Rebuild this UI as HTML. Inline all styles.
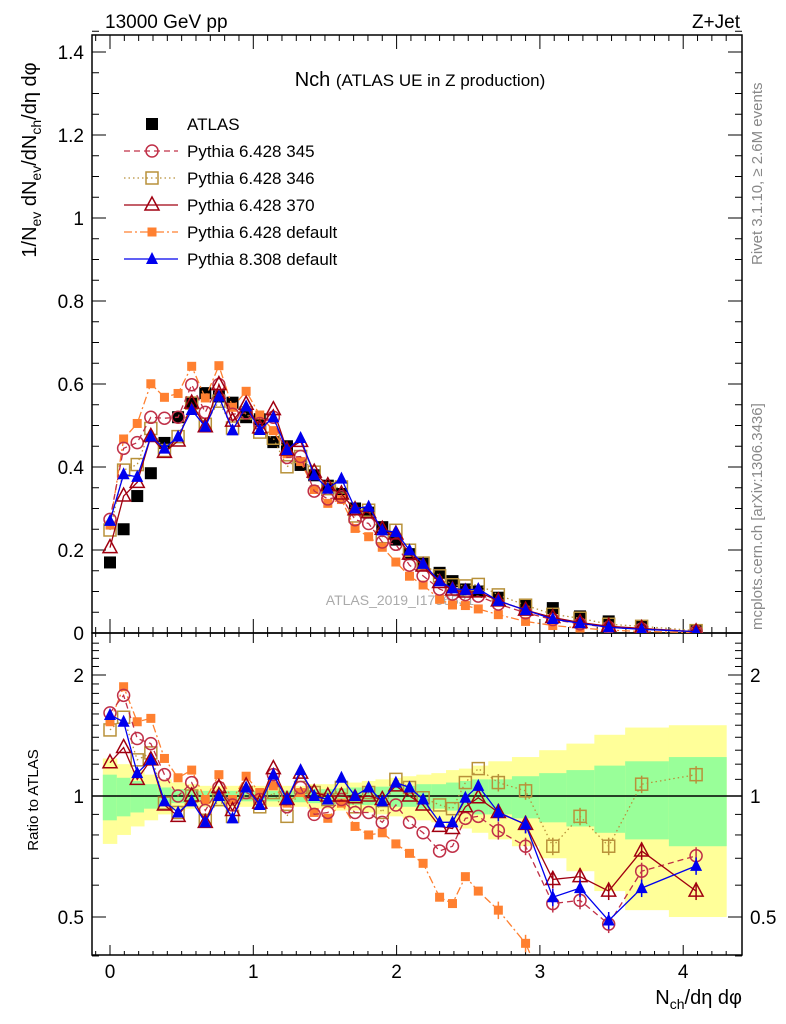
<!DOCTYPE html>
<html><head><meta charset="utf-8"><style>
html,body{margin:0;background:#fff;overflow:hidden;width:786px;height:1024px;}
svg{display:block;font-family:"Liberation Sans",sans-serif;overflow:hidden;}
</style></head><body>
<svg id="c" width="786" height="1024" viewBox="0 0 786 1024">
<text x="105" y="28" font-size="19">13000 GeV pp</text>
<text x="740" y="28" font-size="19" text-anchor="end">Z+Jet</text>
<text x="420" y="86" font-size="20" text-anchor="middle">Nch <tspan font-size="17">(ATLAS UE in Z production)</tspan></text>
<text x="400" y="605" font-size="14" fill="#aaa" text-anchor="middle">ATLAS_2019_I1736531</text>
<text transform="translate(762,265) rotate(-90)" font-size="15" fill="#888">Rivet 3.1.10, ≥ 2.6M events</text>
<text transform="translate(762,630) rotate(-90)" font-size="15" fill="#888">mcplots.cern.ch [arXiv:1306.3436]</text>
<text transform="translate(36,160) rotate(-90)" font-size="20" text-anchor="middle">1/N<tspan font-size="14" dy="5">ev</tspan><tspan dy="-5"> dN</tspan><tspan font-size="14" dy="5">ev</tspan><tspan dy="-5">/dN</tspan><tspan font-size="14" dy="5">ch</tspan><tspan dy="-5">/dη dφ</tspan></text>
<text transform="translate(38,800) rotate(-90)" font-size="15" text-anchor="middle">Ratio to ATLAS</text>
<text x="742" y="1004" font-size="20" text-anchor="end">N<tspan font-size="14" dy="5">ch</tspan><tspan dy="-5">/dη dφ</tspan></text>
<g id="g"></g>
</svg>
<script>
const xVals=[0,0.095,0.19,0.285,0.38,0.475,0.57,0.665,0.76,0.855,0.95,1.045,1.14,1.235,1.33,1.425,1.52,1.615,1.71,1.805,1.9,1.995,2.09,2.185,2.30,2.39,2.48,2.57,2.71,2.90,3.09,3.28,3.48,3.71,4.09];
const atlas=[0.17,0.25,0.33,0.385,0.458,0.52,0.554,0.578,0.57,0.555,0.52,0.515,0.46,0.45,0.405,0.38,0.355,0.335,0.30,0.29,0.255,0.225,0.19,0.17,0.145,0.125,0.105,0.10,0.085,0.065,0.06,0.04,0.028,0.015,0.005];
const r345=[1.61,1.78,1.39,1.35,1.13,1.0,1.08,0.92,1.05,0.95,1.02,0.98,1.13,0.94,1.05,0.90,0.91,0.98,0.91,0.91,0.86,0.95,0.86,0.81,0.73,0.75,0.88,0.89,0.82,0.75,0.54,0.55,0.48,0.65,0.71];
const r346=[1.46,1.57,1.23,1.28,0.96,0.91,1.0,0.87,0.98,0.89,1.02,0.94,1.02,0.89,1.05,1.02,0.98,1.05,0.94,1.02,0.91,1.10,1.05,0.99,0.95,0.93,1.08,1.17,1.08,1.03,0.75,0.89,0.75,1.07,1.13];
const r370=[1.21,1.32,1.10,1.23,0.95,0.89,1.0,0.86,1.05,0.92,1.06,0.96,1.17,0.98,1.14,1.02,1.0,1.0,0.99,1.0,0.98,1.06,1.0,0.95,0.84,0.83,0.94,0.99,0.91,0.85,0.62,0.63,0.58,0.73,0.58];
const rDef=[1.53,1.87,1.53,1.56,1.24,1.11,1.16,0.98,1.13,0.98,1.12,1.02,1.06,0.96,1.02,0.91,0.88,0.96,0.84,0.80,0.81,0.76,0.72,0.68,0.56,0.54,0.63,0.58,0.52,0.43,0.30,0.30,0.25,0.25,0.2];
const r8=[1.59,1.53,1.14,1.23,0.97,0.91,0.97,0.86,1.0,0.88,1.05,0.95,1.13,0.98,1.16,1.0,0.98,1.11,1.0,1.05,0.97,1.08,1.05,0.98,0.86,0.86,0.99,1.06,0.91,0.85,0.56,0.59,0.49,0.59,0.67];
const yellowF=[0.24,0.20,0.16,0.13,0.10,0.08,0.07,0.06,0.06,0.06,0.06,0.06,0.06,0.06,0.06,0.07,0.07,0.08,0.08,0.09,0.10,0.11,0.12,0.13,0.14,0.16,0.17,0.19,0.22,0.25,0.30,0.35,0.42,0.48,0.5];
const greenF=[0.13,0.11,0.09,0.07,0.05,0.04,0.035,0.03,0.03,0.03,0.03,0.03,0.03,0.03,0.035,0.04,0.04,0.045,0.05,0.05,0.055,0.06,0.06,0.07,0.07,0.08,0.09,0.1,0.1,0.12,0.14,0.16,0.19,0.22,0.25];
const yTicks=[0,0.2,0.4,0.6,0.8,1,1.2,1.4];
const xTicks=[0,1,2,3,4];
const rTicks=[0.5,1,2];

const L=92,R=742,T=35,MB=633,RB=955;
const X=v=>110+v*143.3;
const Y=v=>633-v*415;
const RY=r=>796-121*Math.log2(r);
const NS="http://www.w3.org/2000/svg";
const g=document.getElementById('g');
function el(t,a,p){const e=document.createElementNS(NS,t);for(const k in a)e.setAttribute(k,a[k]);(p||g).appendChild(e);return e;}
const clip=el('clipPath',{id:'rc'});el('rect',{x:L,y:MB,width:R-L,height:RB-MB},clip);
const clip2=el('clipPath',{id:'mc'});el('rect',{x:L,y:T,width:R-L,height:MB-T},clip2);

const edges=xVals.map((v,i)=>i==0?v-0.05:(v+xVals[i-1])/2);edges.push(4.3);
const bandG=el('g',{'clip-path':'url(#rc)'});
xVals.forEach((v,i)=>{
  const x0=X(edges[i]),x1=X(edges[i+1]);
  const b=el('rect',{x:x0,y:RY(1+yellowF[i]),width:x1-x0+0.5,height:RY(1-yellowF[i])-RY(1+yellowF[i]),fill:'#ffff99'},bandG);
  
  
  const c=el('rect',{x:x0,y:RY(1+greenF[i]),width:x1-x0+0.5,height:RY(1-greenF[i])-RY(1+greenF[i]),fill:'#99ff99'},bandG);
  
  
});
el('line',{x1:L,x2:R,y1:RY(1),y2:RY(1),stroke:'#000','stroke-width':1.5});

el('rect',{x:L,y:T,width:R-L,height:MB-T,fill:'none',stroke:'#000','stroke-width':1.5});
el('rect',{x:L,y:MB,width:R-L,height:RB-MB,fill:'none',stroke:'#000','stroke-width':1.5});

yTicks.forEach(t=>{
  const lb=el('text',{x:84,y:Y(t)+7,'font-size':19,'text-anchor':'end'});lb.textContent=t;
  
  
  el('line',{x1:L,x2:L+14,y1:Y(t),y2:Y(t),stroke:'#000'});
  el('line',{x1:R,x2:R-14,y1:Y(t),y2:Y(t),stroke:'#000'});
});
for(let k=1;k<30;k++){const t=k*0.05;el('line',{x1:L,x2:L+7,y1:Y(t),y2:Y(t),stroke:'#000'});el('line',{x1:R,x2:R-7,y1:Y(t),y2:Y(t),stroke:'#000'});}
xTicks.forEach(t=>{
  const lb=el('text',{x:X(t),y:978,'font-size':19,'text-anchor':'middle'});lb.textContent=t;
  
  
  [[MB,-14],[MB,10],[T,14],[RB,-10]].forEach(([y,d])=>el('line',{x1:X(t),x2:X(t),y1:y,y2:y+d,stroke:'#000'}));
});
for(let k=-1;k<44;k++){const t=k*0.1;if(k%10==0)continue;[[MB,-6],[MB,4],[T,6],[RB,-4]].forEach(([y,d])=>el('line',{x1:X(t),x2:X(t),y1:y,y2:y+d,stroke:'#000'}));}
rTicks.forEach(t=>{
  const a=el('text',{x:84,y:RY(t)+7,'font-size':19,'text-anchor':'end'});a.textContent=t;
  
  
  const b=el('text',{x:750,y:RY(t)+7,'font-size':19});b.textContent=t;
  
  
  el('line',{x1:L,x2:L+14,y1:RY(t),y2:RY(t),stroke:'#000'});el('line',{x1:R,x2:R-14,y1:RY(t),y2:RY(t),stroke:'#000'});
});
for(let k=4;k<25;k++){const t=k*0.1;el('line',{x1:L,x2:L+7,y1:RY(t),y2:RY(t),stroke:'#000'});el('line',{x1:R,x2:R-7,y1:RY(t),y2:RY(t),stroke:'#000'});}

function marker(p,type,x,y,col,name){
  let m;
  if(type=='sqf')m=el('rect',{x:x-6,y:y-6,width:12,height:12,fill:col},p);
  else if(type=='sqs')m=el('rect',{x:x-4.5,y:y-4.5,width:9,height:9,fill:col},p);
  else if(type=='sqo')m=el('rect',{x:x-6,y:y-6,width:12,height:12,fill:'none',stroke:col,'stroke-width':1.5},p);
  else if(type=='ci')m=el('circle',{cx:x,cy:y,r:6,fill:'none',stroke:col,'stroke-width':1.5},p);
  else if(type=='tro')m=el('path',{d:`M${x},${y-8}L${x+7},${y+5}L${x-7},${y+5}Z`,fill:'none',stroke:col,'stroke-width':1.5},p);
  else m=el('path',{d:`M${x},${y-7}L${x+6},${y+5}L${x-6},${y+5}Z`,fill:col},p);
  
  
}
const series=[
 {r:r346,col:'#b8913a',dash:'1.5,3',m:'sqo',name:'pythia-6-346'},
 {r:rDef,col:'#ff8030',dash:'8,3,2,3',m:'sqs',name:'pythia-6-default'},
 {r:r345,col:'#c03048',dash:'6,4',m:'ci',name:'pythia-6-345'},
 {r:r370,col:'#a00010',dash:'',m:'tro',name:'pythia-6-370'},
 {r:r8,col:'#0000ee',dash:'',m:'trf',name:'pythia-8-default'},
];
const mainG=el('g',{'clip-path':'url(#mc)'}),ratG=el('g',{'clip-path':'url(#rc)'});
xVals.forEach((v,i)=>marker(mainG,'sqf',X(v),Y(atlas[i]),'#000','atlas-point'));
series.forEach(s=>{
  const pm=xVals.map((v,i)=>X(v)+','+Y(atlas[i]*s.r[i])).join(' ');
  const pr=xVals.map((v,i)=>X(v)+','+RY(s.r[i])).join(' ');
  const l1=el('polyline',{points:pm,fill:'none',stroke:s.col,'stroke-width':1.3,'stroke-dasharray':s.dash},mainG);
  
  
  const l2=el('polyline',{points:pr,fill:'none',stroke:s.col,'stroke-width':1.3,'stroke-dasharray':s.dash},ratG);
  
  
  xVals.forEach((v,i)=>{
    marker(mainG,s.m,X(v),Y(atlas[i]*s.r[i]),s.col,s.name+'-point');
    if(i>=28){const e=s.r[i]*0.05;el('line',{x1:X(v),x2:X(v),y1:RY(s.r[i]+e),y2:RY(s.r[i]-e),stroke:s.col,'stroke-width':1.5},ratG);}
    marker(ratG,s.m,X(v),RY(s.r[i]),s.col,s.name+'-ratio-point');
  });
});

const leg=[['ATLAS','#000','','sqf'],['Pythia 6.428 345','#c03048','6,4','ci'],['Pythia 6.428 346','#b8913a','1.5,3','sqo'],['Pythia 6.428 370','#a00010','','tro'],['Pythia 6.428 default','#ff8030','8,3,2,3','sqs'],['Pythia 8.308 default','#0000ee','','trf']];
leg.forEach((e,i)=>{
  const y=124+i*27;
  if(i>0){el('line',{x1:124,x2:178,y1:y,y2:y,stroke:e[1],'stroke-width':1.3,'stroke-dasharray':e[2]});}
  marker(g,e[3],152,y,e[1],'legend-marker');
  const t=el('text',{x:187,y:y+6,'font-size':17});t.textContent=e[0];
  
  
});
</script>
</body></html>
